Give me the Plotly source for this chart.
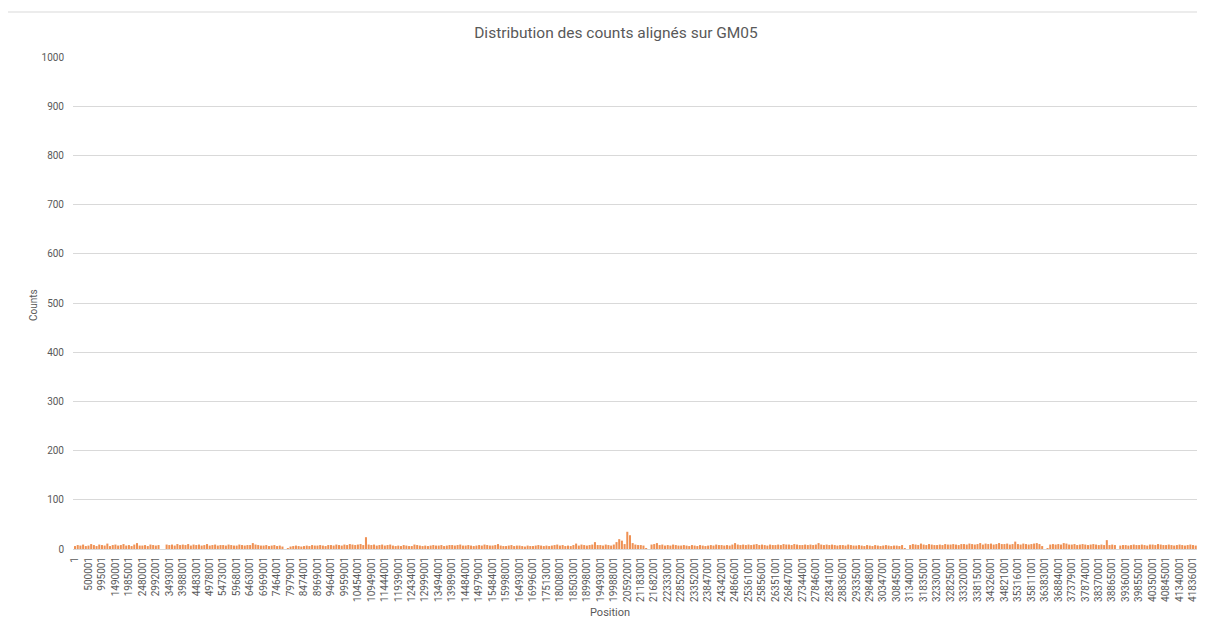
import plotly.graph_objects as go

# Tick labels (genomic positions) shown along the x axis
position_labels = [
    "1", "500001", "995001", "1490001", "1985001", "2480001", "2992001", "3493001",
    "3988001", "4483001", "4978001", "5473001", "5968001", "6463001", "6969001", "7464001",
    "7979001", "8474001", "8969001", "9464001", "9959001", "10454001", "10949001", "11444001",
    "11939001", "12434001", "12999001", "13494001", "13989001", "14484001", "14979001", "15484001",
    "15998001", "16493001", "16996001", "17513001", "18008001", "18503001", "18998001", "19493001",
    "19988001", "20592001", "21183001", "21682001", "22333001", "22852001", "23352001", "23847001",
    "24342001", "24866001", "25361001", "25856001", "26351001", "26847001", "27344001", "27846001",
    "28341001", "28836001", "29335001", "29848001", "30347001", "30845001", "31340001", "31835001",
    "32330001", "32825001", "33320001", "33815001", "34326001", "34821001", "35316001", "35811001",
    "36383001", "36884001", "37379001", "37874001", "38370001", "38865001", "39360001", "39855001",
    "40350001", "40845001", "41340001", "41836001",
]

bars_per_label = 5

# Aligned counts (approximate), 5 bins per labelled interval
counts = [
    6, 8, 7, 9, 6,    7, 10, 8, 6, 9,    8, 7, 11, 6, 8,    9, 7, 8, 10, 7,
    8, 6, 9, 12, 7,   7, 8, 6, 9, 8,     7, 8, 0, 0, 9,     8, 9, 7, 10, 8,
    9, 8, 10, 7, 9,   8, 9, 7, 8, 10,    7, 8, 9, 7, 8,     8, 7, 9, 8, 7,
    7, 9, 8, 7, 8,    8, 12, 9, 8, 7,    7, 8, 6, 7, 8,     6, 7, 5, 0, 2,
    5, 6, 7, 6, 5,    6, 7, 6, 8, 7,     7, 8, 7, 6, 8,     8, 7, 9, 8, 7,
    9, 8, 10, 9, 8,   9, 10, 8, 24, 9,   8, 9, 7, 8, 9,     7, 8, 9, 7, 6,
    7, 6, 8, 7, 6,    6, 9, 8, 7, 6,     7, 6, 7, 8, 7,     7, 8, 6, 7, 8,
    8, 7, 8, 9, 7,    7, 8, 7, 6, 7,     8, 7, 9, 8, 7,     7, 8, 10, 7, 6,
    6, 7, 8, 6, 7,    7, 6, 5, 7, 6,     6, 7, 8, 7, 6,     7, 6, 7, 8, 9,
    7, 8, 6, 7, 6,    8, 11, 7, 9, 8,    7, 8, 9, 14, 8,    8, 7, 9, 8, 7,
    9, 14, 20, 17, 10, 35, 28, 12, 9, 8, 8, 7, 2, 0, 9,     10, 12, 8, 9, 7,
    8, 7, 9, 8, 7,    7, 8, 7, 6, 8,     7, 6, 8, 7, 6,     7, 8, 7, 9, 8,
    8, 7, 8, 7, 9,    12, 9, 8, 9, 8,    9, 8, 9, 10, 8,    9, 8, 7, 9, 8,
    8, 9, 8, 10, 9,   9, 8, 10, 9, 8,    8, 9, 8, 9, 8,     9, 12, 9, 8, 9,
    8, 9, 8, 7, 8,    8, 7, 9, 8, 7,     7, 8, 7, 6, 8,     7, 6, 8, 7, 6,
    7, 8, 7, 6, 7,    7, 6, 8, 1, 0,     8, 10, 9, 8, 11,   9, 8, 10, 9, 8,
    8, 9, 8, 10, 9,   9, 10, 9, 8, 10,   10, 9, 11, 10, 9,  10, 12, 9, 11, 10,
    11, 9, 10, 12, 10, 10, 11, 9, 10, 15, 10, 9, 11, 10, 9, 10, 11, 12, 10, 6,
    0, 1, 9, 10, 9,   10, 9, 12, 11, 9,  9, 10, 8, 9, 10,   9, 8, 9, 10, 9,
    8, 9, 8, 18, 8,   9, 8, 0, 7, 8,     8, 7, 8, 9, 8,     8, 9, 8, 7, 9,
    9, 8, 10, 9, 8,   8, 9, 8, 7, 8,     9, 8, 7, 8, 9,     8, 7, 8, 9,
]

y_ticks = list(range(0, 1001, 100))

title_text = "Distribution des counts alignés sur GM05"
x_title = "Position"
y_title = "Counts"

gray_text = "#595959"
grid_col = "#d9d9d9"
font_family = "Roboto, Lato, 'Liberation Sans', sans-serif"

W, H = 1197, 619  # page body has an 8px margin

fig = go.Figure()
fig.add_trace(go.Bar(
    x=list(range(len(counts))),
    y=counts,
    marker=dict(color="#EE8642", line=dict(width=0)),
    opacity=0.9,
    hoverinfo="x+y",
))

tick_idx = [i * bars_per_label for i in range(len(position_labels))]

fig.update_layout(
    width=W, height=H,
    paper_bgcolor="white", plot_bgcolor="white",
    margin=dict(l=65, r=2, t=49, b=78),
    bargap=0.25,
    showlegend=False,
    font=dict(family=font_family, color=gray_text),
    title=dict(
        text=title_text,
        x=608 / W, xanchor="center", xref="container",
        y=1 - 25 / H, yanchor="middle", yref="container",
        font=dict(size=15.5, color=gray_text, family=font_family),
    ),
    xaxis=dict(
        range=[-0.75, 418.7],
        tickmode="array",
        tickvals=tick_idx,
        ticktext=position_labels,
        tickangle=-90,
        tickfont=dict(size=10, color=gray_text),
        showgrid=False,
        showline=True, linecolor=grid_col, linewidth=1,
        zeroline=False,
        ticks="",
        ticklabelstandoff=3,
        fixedrange=True,
    ),
    yaxis=dict(
        range=[0, 1000],
        tickmode="array",
        tickvals=y_ticks,
        tickfont=dict(size=10, color=gray_text),
        showgrid=True, gridcolor=grid_col, gridwidth=1,
        zeroline=False,
        showline=False,
        ticks="",
        ticklabelstandoff=8,
        fixedrange=True,
    ),
    annotations=[
        dict(text=y_title, xref="paper", yref="paper",
             x=(33 - 73) / 1130, y=(549 - 305) / 492,
             textangle=-90, showarrow=False,
             font=dict(size=10, color=gray_text), xanchor="center", yanchor="middle"),
        dict(text=x_title, xref="paper", yref="paper",
             x=(610 - 73) / 1130, y=(549 - 612) / 492,
             showarrow=False,
             font=dict(size=11, color=gray_text), xanchor="center", yanchor="middle"),
    ],
    shapes=[
        dict(type="rect", xref="paper", yref="paper",
             x0=(7 - 73) / 1130, x1=(1215 - 73) / 1130,
             y0=(549 - 640) / 492, y1=(549 - 12) / 492,
             line=dict(color=grid_col, width=1), fillcolor="rgba(0,0,0,0)", layer="below"),
    ],
)

fig.write_html("out.html")
